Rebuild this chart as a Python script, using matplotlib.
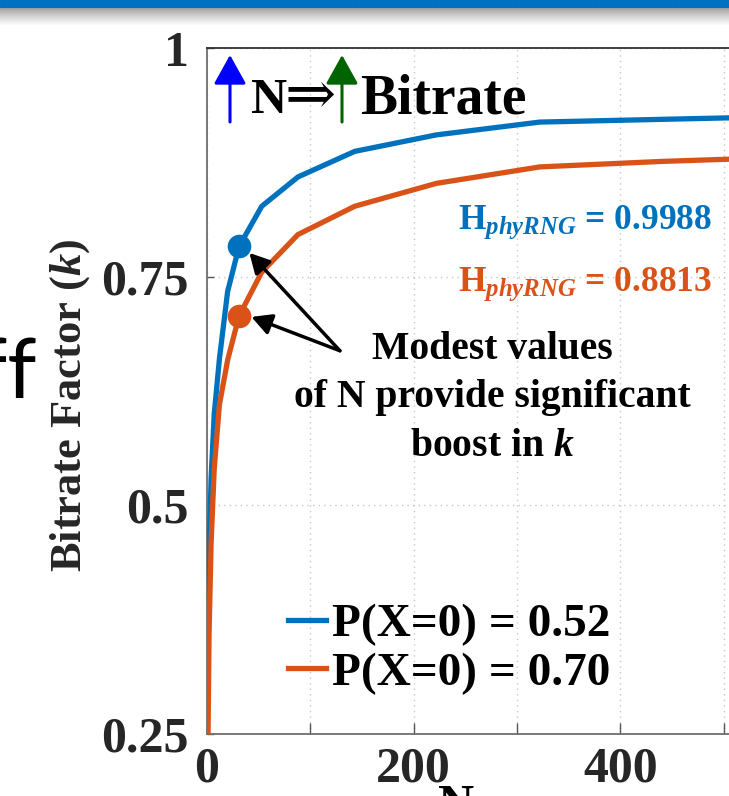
import numpy as np
import matplotlib
matplotlib.use("Agg")
import matplotlib.pyplot as plt
from matplotlib.lines import Line2D

# ---------------- data ----------------
N_vals = [1, 2, 4, 7, 12, 20, 31, 53, 88, 143, 222, 322, 440, 600]
k_p052 = [0.36, 0.45, 0.53, 0.60, 0.66, 0.734, 0.783, 0.827, 0.859, 0.887, 0.905, 0.919, 0.922, 0.926]
k_p070 = [0.25, 0.36, 0.46, 0.54, 0.61, 0.659, 0.707, 0.755, 0.796, 0.827, 0.852, 0.870, 0.876, 0.882]
series_labels = ["P(X=0) = 0.52", "P(X=0) = 0.70"]
entropy_labels = ["0.9988", "0.8813"]
marker_N = 31
xticks = [0, 100, 200, 300, 400, 500, 600]
xticklabels = ["0", "", "200", "", "400", "", ""]
yticks = [0.25, 0.5, 0.75, 1.0]
yticklabels = ["0.25", "0.5", "0.75", "1"]

BLUE = "#0072BD"
ORANGE = "#D95319"
TXT = "#262626"

plt.rcParams["mathtext.fontset"] = "custom"
plt.rcParams["mathtext.rm"] = "Liberation Serif:bold"
plt.rcParams["mathtext.bf"] = "Liberation Serif:bold"
plt.rcParams["mathtext.it"] = "Liberation Serif:italic:bold"
SERIF = ["Liberation Serif", "DejaVu Serif"]

W, H = 729, 796
fig = plt.figure(figsize=(W / 100, H / 100), dpi=100)
fig.patch.set_facecolor("white")

def fx(x):
    return x / W

def fy(y):
    return 1 - y / H

# top slide bar with shadow
bar = fig.add_axes([0, fy(26), 1, 26 / H])
bar.axis("off")
grad = np.ones((26, 1, 3))
blue_rgb = np.array([0x00, 0x70, 0xC0]) / 255
for i in range(26):
    if i < 8:
        grad[i, 0] = blue_rgb
    else:
        t = (i - 8) / 17
        g = 0.62 + 0.38 * t ** 0.8
        grad[i, 0] = [g, g, g]
bar.imshow(grad, aspect="auto", extent=[0, 1, 0, 1], interpolation="bilinear")

# slide fragment text at the left
fig.text(fx(36), fy(398), "ff", family=["Lato", "DejaVu Sans"], fontsize=60,
         ha="right", va="baseline", color="black")

# main axes (extends past right edge of figure, as in cropped reference)
x0, x1 = 207, 207 + 620
y_top, y_bot = 48, 734
ax = fig.add_axes([fx(x0), fy(y_bot), (x1 - x0) / W, (y_bot - y_top) / H])
ax.set_xlim(0, 600)
ax.set_ylim(0.25, 1.0)

ax.plot(N_vals, k_p052, color=BLUE, lw=3.8, solid_joinstyle="miter", zorder=3)
ax.plot(N_vals, k_p070, color=ORANGE, lw=3.8, solid_joinstyle="miter", zorder=4)
i_m = N_vals.index(marker_N)
ax.plot([marker_N], [k_p052[i_m]], "o", color=BLUE, ms=17, mew=0, zorder=5)
ax.plot([marker_N], [k_p070[i_m]], "o", color=ORANGE, ms=17, mew=0, zorder=5)

ax.set_xticks(xticks)
ax.set_xticklabels(xticklabels)
ax.set_yticks(yticks)
ax.set_yticklabels(yticklabels)
for lab in ax.get_xticklabels() + ax.get_yticklabels():
    lab.set_family(SERIF)
    lab.set_fontweight("bold")
    lab.set_fontsize(36)
    lab.set_color(TXT)
ax.tick_params(axis="x", direction="in", length=8, width=1, color="#555555", pad=9)
ax.tick_params(axis="y", direction="in", length=5, width=1, color="#555555", pad=13)
ax.grid(True, linestyle=(0, (1, 3)), color="#c8c8c8", lw=1)
ax.set_axisbelow(True)
for s in ["left", "bottom"]:
    ax.spines[s].set_color("#6e6e6e")
    ax.spines[s].set_linewidth(1.3)
ax.spines["top"].set_color("#303030")
ax.spines["top"].set_linewidth(1.3)
ax.spines["right"].set_visible(False)

ax.set_ylabel(r"Bitrate Factor ($\mathit{k}$)", family=SERIF, fontweight="bold",
              fontsize=32, color=TXT, va="center")
ax.yaxis.set_label_coords((70 - x0) / (x1 - x0), (y_bot - 405) / (y_bot - y_top))
ax.set_xlabel("N", family=SERIF, fontweight="bold", fontsize=36, color="black", va="top")
ax.xaxis.set_label_coords((456 - x0) / (x1 - x0), (y_bot - 784) / (y_bot - y_top))

# legend
handles = [Line2D([], [], color=BLUE, lw=3.8), Line2D([], [], color=ORANGE, lw=3.8)]
leg = ax.legend(handles, series_labels, loc="center",
                bbox_to_anchor=((449 - x0) / (x1 - x0), (y_bot - 649) / (y_bot - y_top)),
                frameon=False, prop={"family": SERIF, "weight": "bold", "size": 34},
                handlelength=0.8, handletextpad=0.12, labelspacing=0.12, borderpad=0)
for t in leg.get_texts():
    t.set_color("black")

# entropy labels
fig.text(fx(712), fy(229), r"$\mathbf{H}_{\mathit{phyRNG}}$ = " + entropy_labels[0],
         color=BLUE, family=SERIF, fontweight="bold", fontsize=25.5, ha="right", va="baseline")
fig.text(fx(712), fy(291), r"$\mathbf{H}_{\mathit{phyRNG}}$ = " + entropy_labels[1],
         color=ORANGE, family=SERIF, fontweight="bold", fontsize=25.5, ha="right", va="baseline")

# annotation
tail = (128.6, 0.669)
ap = dict(arrowstyle="-|>,head_length=0.6,head_width=0.32", lw=2.5, color="black",
          mutation_scale=20, shrinkA=0, shrinkB=0)
ax.annotate("", xy=(41, 0.776), xytext=tail, arrowprops=ap, zorder=6)
ax.annotate("", xy=(43, 0.706), xytext=tail, arrowprops=ap, zorder=6)
fig.text(fx(492), fy(398), "Modest values\nof N provide significant\nboost in $\\mathit{k}$",
         family=SERIF, fontweight="bold", fontsize=28.5, ha="center", va="center",
         linespacing=1.4, color="black")

# title-like annotation with coloured up arrows
def up_arrow(xp, color):
    fig.add_artist(matplotlib.patches.FancyArrowPatch(
        (fx(xp), fy(122)), (fx(xp), fy(55)), transform=fig.transFigure,
        arrowstyle="-|>,head_length=0.9,head_width=0.5", mutation_scale=20,
        lw=2.2, color=color, shrinkA=0, shrinkB=0))

up_arrow(230, "#0000FF")
up_arrow(342, "#006400")
fig.text(fx(251), fy(113), "N", family=SERIF, fontweight="bold", fontsize=36,
         ha="left", va="baseline", color="black")
fig.text(fx(310), fy(97), "⇒", family=["DejaVu Serif"], fontweight="normal", fontsize=44,
         ha="center", va="center", color="black")
fig.text(fx(360), fy(113), "Bitrate", family=SERIF, fontweight="bold", fontsize=40,
         ha="left", va="baseline", color="black")

fig.savefig("out.png", dpi=100)
